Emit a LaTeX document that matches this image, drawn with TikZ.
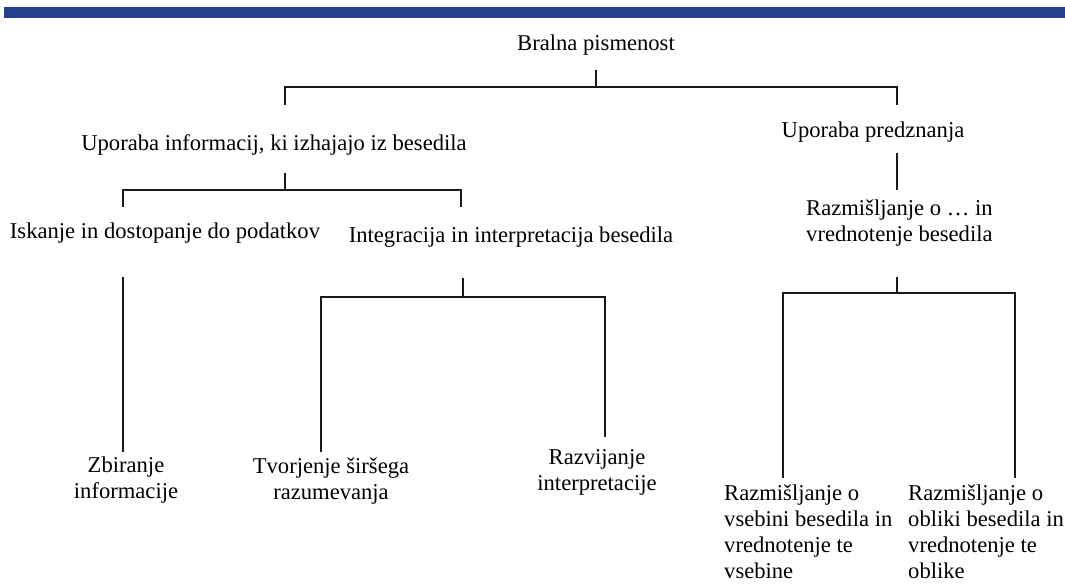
\documentclass[tikz,border=0pt]{standalone}
\usepackage{fontspec}
\setmainfont{Liberation Serif}
\usepackage{tikz}
\usetikzlibrary{positioning}
\definecolor{BarBlue}{HTML}{25418E}
\definecolor{TreeLine}{HTML}{1A1A1A}

\begin{document}
\begin{tikzpicture}[x=1pt,y=-1pt,>=stealth]
  \tikzstyle{lbl}=[inner sep=0pt,text=black,
    font=\fontsize{22.6}{26}\selectfont]
  \tikzstyle{tree}=[draw=TreeLine,line width=1.6pt]
  \useasboundingbox (0,0) rectangle (1065,584);
  \fill[BarBlue] (4,7) rectangle (1065,18);
  % labels
  \node[lbl] (bralna) at (596,45) {Bralna pismenost};
  \node[lbl] (uinfo) at (274,145) {Uporaba informacij, ki izhajajo iz besedila};
  \node[lbl] (upred) at (873,132) {Uporaba predznanja};
  \node[lbl] (iskanje) at (165,233) {Iskanje in dostopanje do podatkov};
  \node[lbl] (integr) at (511,237) {Integracija in interpretacija besedila};
  \node[lbl,align=left,anchor=north west] (razm) at (806,200)
    {Razmi\v{s}ljanje o \dots{} in\\vrednotenje besedila};
  \node[lbl,align=center] (zbir) at (126,480) {Zbiranje\\informacije};
  \node[lbl,align=center] (tvor) at (331,481) {Tvorjenje \v{s}ir\v{s}ega\\razumevanja};
  \node[lbl,align=center] (razv) at (597,472) {Razvijanje\\interpretacije};
  \node[lbl,align=left,anchor=north west] (vseb) at (724,485)
    {Razmi\v{s}ljanje o\\vsebini besedila in\\vrednotenje te\\vsebine};
  \node[lbl,align=left,anchor=north west] (oblik) at (908,485)
    {Razmi\v{s}ljanje o\\obliki besedila in\\vrednotenje te\\oblike};
  % junctions
  \coordinate (b1) at (596,70);
  \coordinate (b2) at (596,87);
  \coordinate (b2l) at (285,105);
  \coordinate (b2r) at (897,105);
  \coordinate (u1) at (285,173);
  \coordinate (u2) at (285,190);
  \coordinate (u2l) at (123,207);
  \coordinate (u2r) at (461,207);
  \coordinate (p1) at (897,153);
  \coordinate (p2) at (897,190);
  \coordinate (i1) at (123,277);
  \coordinate (i2) at (123,452);
  \coordinate (g1) at (463,278);
  \coordinate (g2) at (463,297);
  \coordinate (g2l) at (321,452);
  \coordinate (g2r) at (605,437);
  \coordinate (r1) at (897,277);
  \coordinate (r2) at (897,293);
  \coordinate (r2l) at (783,478);
  \coordinate (r2r) at (1015,478);
  % connectors
  \draw[tree] (b1)--(b2);
  \draw[tree] (b2l)|-(b2)-|(b2r);
  \draw[tree] (u1)--(u2);
  \draw[tree] (u2l)|-(u2)-|(u2r);
  \draw[tree] (p1)--(p2);
  \draw[tree] (i1)--(i2);
  \draw[tree] (g1)--(g2);
  \draw[tree] (g2l)|-(g2)-|(g2r);
  \draw[tree] (r1)--(r2);
  \draw[tree] (r2l)|-(r2)-|(r2r);
\end{tikzpicture}
\end{document}
